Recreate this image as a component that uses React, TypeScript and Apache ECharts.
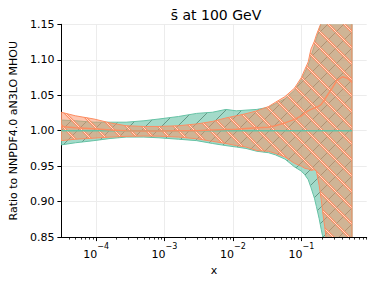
import React, { useEffect, useRef } from 'react';
import * as echarts from 'echarts';

// x positions (momentum fraction)
const xValues = [3.1e-5, 5.0e-5, 9.3e-5, 1.6e-4, 2.75e-4, 5.0e-4, 8.3e-4, 1.6e-3, 2.95e-3, 5.0e-3, 7.9e-3, 0.0112, 0.0155, 0.0224, 0.0331, 0.0417, 0.0575, 0.0794, 0.1, 0.112, 0.126, 0.138, 0.155, 0.166, 0.182, 0.195, 0.204, 0.219, 0.24, 0.282, 0.331, 0.398, 0.468, 0.55];

// NNPDF4.0 aN3LO MHOU (reference, green)
const greenUpper = [1.015, 1.014, 1.012, 1.012, 1.012, 1.014, 1.0165, 1.02, 1.0244, 1.026, 1.03, 1.028, 1.029, 1.03, 1.033, 1.038, 1.045, 1.057, 1.072, 1.082, 1.092, 1.105, 1.12, 1.13, 1.142, 1.152, 1.16, 1.175, 1.19, 1.22, 1.25, 1.28, 1.3, 1.32];
const greenLower = [0.98, 0.983, 0.986, 0.989, 0.991, 0.991, 0.99, 0.988, 0.986, 0.982, 0.979, 0.977, 0.975, 0.971, 0.969, 0.966, 0.96, 0.949, 0.943, 0.938, 0.931, 0.92, 0.905, 0.893, 0.876, 0.861, 0.852, 0.83, 0.81, 0.78, 0.76, 0.73, 0.71, 0.69];
const referenceRatio = 1.0;

// comparison (orange)
const orangeUpper = [1.026, 1.021, 1.0165, 1.011, 1.007, 1.006, 1.006, 1.007, 1.0095, 1.013, 1.018, 1.021, 1.024, 1.028, 1.034, 1.04, 1.048, 1.06, 1.075, 1.086, 1.097, 1.115, 1.126, 1.135, 1.145, 1.152, 1.16, 1.175, 1.19, 1.22, 1.25, 1.28, 1.3, 1.32];
const orangeLower = [0.986, 0.988, 0.9895, 0.991, 0.992, 0.9925, 0.9923, 0.991, 0.9886, 0.985, 0.982, 0.979, 0.977, 0.972, 0.971, 0.968, 0.963, 0.954, 0.95, 0.947, 0.946, 0.944, 0.945, 0.943, 0.923, 0.903, 0.887, 0.865, 0.835, 0.8, 0.77, 0.74, 0.72, 0.7];
const orangeCentral = [1.006, 1.004, 1.0026, 1.001, 1.0, 0.9995, 0.9995, 1.0, 1.0, 1.001, 1.0016, 1.002, 1.003, 1.004, 1.005, 1.007, 1.011, 1.016, 1.021, 1.025, 1.028, 1.03, 1.032, 1.033, 1.035, 1.037, 1.04, 1.044, 1.05, 1.06, 1.071, 1.076, 1.074, 1.068];

// axis
const xLogMin = -4.507;
const xLogMax = -0.045;
const xMajorExponents = [-4, -3, -2, -1];
const xMinorMultipliers = [2, 3, 4, 5, 6, 7, 8, 9];
const yMin = 0.85;
const yMax = 1.15;
const yStep = 0.05;

const TITLE = 's\u0304 at 100 GeV';
const Y_NAME = 'Ratio to NNPDF4.0 aN3LO MHOU';
const X_NAME = 'x';

const GREEN = '#66c2a5';
const ORANGE = '#fc8d62';
const FONT = 'DejaVu Sans';

function makeHatch(size: number, dir: '/' | '\\', strokes: { color: string; width: number }[]) {
  const c = document.createElement('canvas');
  c.width = size;
  c.height = size;
  const ctx = c.getContext('2d')!;
  for (const s of strokes) {
    ctx.strokeStyle = s.color;
    ctx.lineWidth = s.width;
    ctx.beginPath();
    for (let k = -1; k <= 1; k++) {
      if (dir === '/') {
        ctx.moveTo(k * size, size);
        ctx.lineTo(k * size + size, 0);
      } else {
        ctx.moveTo(k * size, 0);
        ctx.lineTo(k * size + size, size);
      }
    }
    ctx.stroke();
  }
  return { image: c.toDataURL(), repeat: 'repeat', imageWidth: size, imageHeight: size };
}

export default function App() {
  const ref = useRef<HTMLDivElement>(null);
  useEffect(() => {
    if (!ref.current) return;
    const chart = echarts.init(ref.current, null, { renderer: 'svg' });
    const lx = xValues.map((v) => Math.log10(v));
    const minorTicks: number[] = [];
    for (let e = -5; e <= -1; e++) {
      for (const m of xMinorMultipliers) {
        const v = Math.log10(m) + e;
        if (v > xLogMin && v < xLogMax) minorTicks.push(v);
      }
    }
    const greenHatch = makeHatch(16, '/', [{ color: 'rgba(60,105,88,0.75)', width: 0.8 }]);
    const orangeHatch = makeHatch(16, '\\', [
      { color: ORANGE, width: 2.4 },
      { color: 'rgba(255,236,226,0.95)', width: 0.9 },
    ]);

    const band = (name: string, lower: number[], upper: number[], fill: string, hatch: any, edge: string, z: number) => ({
      type: 'custom',
      name,
      coordinateSystem: 'cartesian2d',
      clip: true,
      z,
      silent: true,
      data: lx.map((v, i) => [v, lower[i], upper[i]]),
      encode: { x: 0, y: [1, 2] },
      renderItem: (params: any, api: any) => {
        if (params.dataIndex !== 0) return null;
        const up = lx.map((v, i) => api.coord([v, upper[i]]));
        const lo = lx.map((v, i) => api.coord([v, lower[i]])).reverse();
        const pts = up.concat(lo);
        return {
          type: 'group',
          children: [
            { type: 'polygon', shape: { points: pts }, style: { fill, stroke: 'none' } },
            { type: 'polygon', shape: { points: pts }, style: { fill: hatch, stroke: edge, lineWidth: 1 } },
          ],
        };
      },
    });

    const axisText = { fontFamily: FONT, fontSize: 11, color: '#000' };

    chart.setOption({
      animation: false,
      backgroundColor: '#fff',
      title: {
        text: TITLE,
        left: 211,
        top: 3,
        textAlign: 'center',
        textStyle: { fontFamily: FONT, fontSize: 14, fontWeight: 'normal', color: '#000' },
      },
      grid: { left: 55, right: 7.3, top: 24.3, bottom: 41.7, containLabel: false },
      xAxis: [
        {
          type: 'value',
          min: xLogMin,
          max: xLogMax,
          name: X_NAME,
          nameLocation: 'middle',
          nameGap: 17,
          nameTextStyle: axisText,
          axisLine: { show: true, lineStyle: { color: '#000', width: 1 } },
          axisTick: { show: true, length: 4, customValues: xMajorExponents, lineStyle: { color: '#000', width: 1 } },
          axisLabel: {
            show: true,
            customValues: xMajorExponents,
            margin: 5,
            formatter: (v: number) => `{b|10}{s|\u2212${Math.abs(Math.round(v))}}`,
            rich: {
              b: { fontFamily: FONT, fontSize: 11, color: '#000', lineHeight: 18, verticalAlign: 'bottom' },
              s: { fontFamily: FONT, fontSize: 8, color: '#000', lineHeight: 10, verticalAlign: 'top' },
            },
          },
          splitLine: { show: true, lineStyle: { color: '#ececec', width: 1 } },
        },
        {
          type: 'value',
          min: xLogMin,
          max: xLogMax,
          position: 'bottom',
          axisLine: { show: false },
          axisTick: { show: true, length: 2.5, customValues: minorTicks, lineStyle: { color: '#000', width: 0.8 } },
          axisLabel: { show: false },
          splitLine: { show: false },
        },
      ],
      yAxis: {
        type: 'value',
        min: yMin,
        max: yMax,
        interval: yStep,
        name: Y_NAME,
        nameLocation: 'middle',
        nameRotate: 90,
        nameGap: 36,
        nameTextStyle: axisText,
        axisLine: { show: true, lineStyle: { color: '#000', width: 1 } },
        axisTick: { show: true, length: 4, lineStyle: { color: '#000', width: 1 } },
        axisLabel: { ...axisText, margin: 7, formatter: (v: number) => v.toFixed(2) },
        splitLine: { show: true, lineStyle: { color: '#ececec', width: 1 } },
      },
      series: [
        band('NNPDF4.0 aN3LO MHOU', greenLower, greenUpper, 'rgba(102,194,165,0.6)', greenHatch, GREEN, 1),
        band('comparison', orangeLower, orangeUpper, 'rgba(252,141,98,0.5)', orangeHatch, ORANGE, 2),
        {
          type: 'line',
          name: 'reference central',
          z: 3,
          showSymbol: false,
          silent: true,
          data: lx.map((v) => [v, referenceRatio]),
          lineStyle: { color: GREEN, width: 1.6 },
        },
        {
          type: 'line',
          name: 'comparison central',
          z: 4,
          showSymbol: false,
          silent: true,
          data: lx.map((v, i) => [v, orangeCentral[i]]),
          lineStyle: { color: ORANGE, width: 1.5 },
        },
      ],
    });
    return () => chart.dispose();
  }, []);
  return <div ref={ref} style={{ position: 'fixed', left: 0, top: 0, width: 374, height: 281 }} />;
}
